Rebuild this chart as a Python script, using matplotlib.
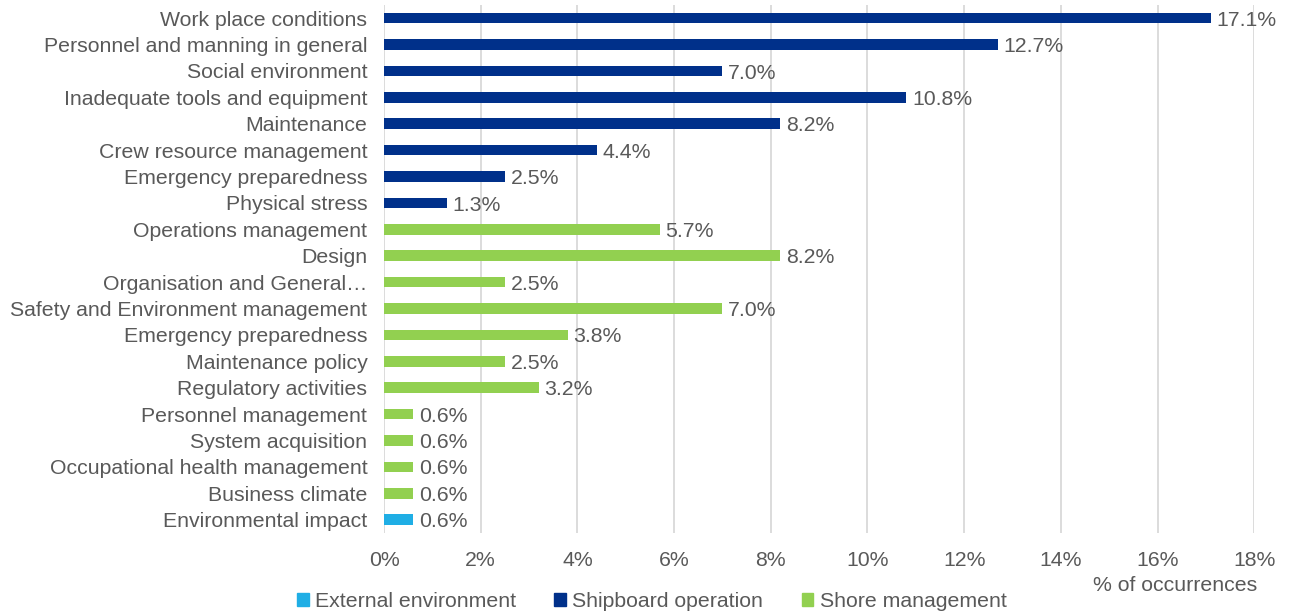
import matplotlib.pyplot as plt
from matplotlib.patches import Patch

plt.rcParams['font.family'] = ['Liberation Sans', 'DejaVu Sans']

# categories listed from top to bottom
categories = ['Work place conditions', 'Personnel and manning in general', 'Social environment',
              'Inadequate tools and equipment', 'Maintenance', 'Crew resource management',
              'Emergency preparedness', 'Physical stress', 'Operations management', 'Design',
              'Organisation and General\u2026', 'Safety and Environment management',
              'Emergency preparedness', 'Maintenance policy', 'Regulatory activities',
              'Personnel management', 'System acquisition', 'Occupational health management',
              'Business climate', 'Environmental impact']
values = [17.1, 12.7, 7.0, 10.8, 8.2, 4.4, 2.5, 1.3, 5.7, 8.2,
          2.5, 7.0, 3.8, 2.5, 3.2, 0.6, 0.6, 0.6, 0.6, 0.6]
groups = ['Shipboard operation'] * 8 + ['Shore management'] * 11 + ['External environment']

group_names = ['External environment', 'Shipboard operation', 'Shore management']
group_colors = {'External environment': '#1FAEE5',
                'Shipboard operation': '#00308A',
                'Shore management': '#92D050'}
text_color = '#595959'
fs = 15.3

fig = plt.figure(figsize=(12.93, 6.16), dpi=100)
ax = fig.add_axes([0.297, 0.135, 0.673, 0.857])

y = list(range(len(categories)))
colors = [group_colors[g] for g in groups]
ax.barh(y, values, height=0.4, color=colors, zorder=3)
for yi, v in zip(y, values):
    ax.text(v + 0.12, yi + 0.08, f'{v:.1f}%', va='center', ha='left', fontsize=fs,
            color=text_color, zorder=4)

ax.set_ylim(len(categories) - 0.5, -0.5)
ax.set_yticks(y)
ax.set_yticklabels(categories, fontsize=fs, color=text_color)
ax.set_xlim(0, 18)
ax.set_xticks(range(0, 19, 2))
ax.set_xticklabels([f'{t}%' for t in range(0, 19, 2)], fontsize=fs, color=text_color)
ax.tick_params(axis='y', length=0, pad=12)
ax.tick_params(axis='x', length=0, pad=13)
ax.grid(axis='x', color='#D9D9D9', linewidth=1.3, zorder=0)
for s in ax.spines.values():
    s.set_visible(False)

fig.text(0.909, 0.05, '% of occurrences', ha='center', va='center',
         fontsize=fs, color=text_color)

handles = [Patch(color=group_colors[g]) for g in group_names]
fig.legend(handles, group_names, loc='center', bbox_to_anchor=(0.504, 0.024), ncol=3,
           frameon=False, fontsize=fs, handlelength=0.55, handleheight=0.55,
           handletextpad=0.3, columnspacing=1.8, labelcolor=text_color)

fig.savefig('out.png', dpi=100)
